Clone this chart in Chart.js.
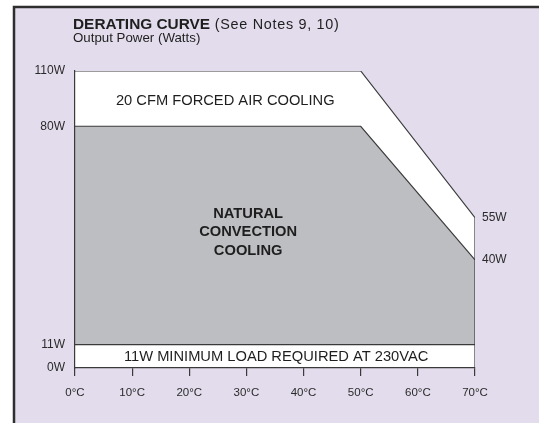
<!DOCTYPE html>
<html>
<head>
<meta charset="utf-8">
<script src="https://cdn.jsdelivr.net/npm/chart.js@4"></script>
<style>
  html, body { margin: 0; padding: 0; background: #fff; }
</style>
</head>
<body>
<canvas id="myChart" width="539" height="423"></canvas>
<script>
// derating curve, temperature (°C) vs output power (W)
const temps = [0, 50, 70, 70];
const forcedAir = [110, 110, 55, 0];
const natural = [80, 80, 40, 0];
const minTemps = [0, 70, 70];
const minLoad = [11, 11, 0];
const leftTicks = [0, 11, 80, 110];
const rightTicks = [40, 55];

const FONT = '"Liberation Sans", Arial, Helvetica, sans-serif';
const LINE = '#3a3a3a';

// the power axis in the datasheet is not to scale, so map it piecewise
class SchematicScale extends Chart.LinearScale {
    _frac(value) {
        const b = this.options.breaks;
        for (let i = 1; i < b.length; i++) {
            if (value <= b[i][0] || i === b.length - 1) {
                const [v0, f0] = b[i - 1], [v1, f1] = b[i];
                return f0 + (value - v0) / (v1 - v0) * (f1 - f0);
            }
        }
        return 0;
    }
    getPixelForValue(value) {
        return this.getPixelForDecimal(this._frac(value));
    }
    getValueForPixel(pixel) {
        const f = this.getDecimalForPixel(pixel);
        const b = this.options.breaks;
        for (let i = 1; i < b.length; i++) {
            if (f <= b[i][1] || i === b.length - 1) {
                const [v0, f0] = b[i - 1], [v1, f1] = b[i];
                return v0 + (f - f0) / (f1 - f0) * (v1 - v0);
            }
        }
        return 0;
    }
}
SchematicScale.id = 'schematic';
SchematicScale.defaults = {};
Chart.register(SchematicScale);

const breaks = [[0, 0], [11, 0.079], [40, 0.364], [55, 0.506], [80, 0.814], [110, 1]];

const background = {
    id: 'background',
    beforeDraw(chart) {
        const c = chart.ctx;
        c.save();
        c.fillStyle = '#ffffff';
        c.fillRect(0, 0, chart.width, chart.height);
        c.fillStyle = '#e3dcec';
        c.fillRect(14, 7, chart.width - 14, chart.height - 7);
        c.strokeStyle = '#2e2e2e';
        c.lineWidth = 2.5;
        c.beginPath();
        c.moveTo(14, chart.height);
        c.lineTo(14, 7);
        c.lineTo(chart.width, 7);
        c.stroke();
        c.restore();
    }
};

const texts = {
    id: 'texts',
    afterDraw(chart) {
        const c = chart.ctx;
        const x = chart.scales.x, y = chart.scales.y;
        c.save();
        c.fillStyle = '#1e1e1e';
        c.textBaseline = 'alphabetic';
        c.textAlign = 'left';
        c.font = 'bold 15.4px ' + FONT;
        c.fillText('DERATING CURVE', 73, 29);
        const w = c.measureText('DERATING CURVE').width;
        c.font = '14.4px ' + FONT;
        c.letterSpacing = '0.7px';
        c.fillText(' (See Notes 9, 10)', 73 + w, 29);
        c.letterSpacing = '0px';
        c.font = '13.3px ' + FONT;
        c.fillText('Output Power (Watts)', 73, 41.5);

        c.textAlign = 'center';
        c.textBaseline = 'middle';
        c.font = '14.7px ' + FONT;
        c.fillText('20 CFM FORCED AIR COOLING', x.getPixelForValue(26.3), y.getPixelForValue(94));
        c.fillText('11W MINIMUM LOAD REQUIRED AT 230VAC', x.getPixelForValue(35.2), y.getPixelForValue(5));
        c.font = 'bold 14.7px ' + FONT;
        const cx = x.getPixelForValue(30.3), cy = y.getPixelForValue(49.8);
        c.fillText('NATURAL', cx, cy - 18.3);
        c.fillText('CONVECTION', cx, cy);
        c.fillText('COOLING', cx, cy + 18.3);
        c.restore();
    }
};

const ctx = document.getElementById('myChart');
const toPoints = (xs, ys) => xs.map((t, i) => ({x: t, y: ys[i]}));

new Chart(ctx, {
    type: 'line',
    data: {
        datasets: [{
            label: '11W minimum load',
            data: toPoints(minTemps, minLoad),
            fill: 'origin',
            backgroundColor: '#ffffff',
            borderColor: LINE,
            order: 1
        }, {
            label: 'Natural convection',
            data: toPoints(temps, natural),
            fill: 'origin',
            backgroundColor: '#bdbec2',
            borderColor: LINE,
            order: 2
        }, {
            label: '20 CFM forced air',
            data: toPoints(temps, forcedAir),
            fill: 'origin',
            backgroundColor: '#ffffff',
            borderColor: LINE,
            order: 3
        }]
    },
    options: {
        responsive: false,
        animation: false,
        devicePixelRatio: 1,
        events: [],
        layout: { padding: { top: 71, left: 0, right: 0, bottom: 0 } },
        elements: {
            line: { tension: 0, borderWidth: 1.2 },
            point: { radius: 0 }
        },
        plugins: {
            legend: { display: false },
            tooltip: { enabled: false },
            title: { display: false }
        },
        scales: {
            x: {
                type: 'linear',
                min: 0,
                max: 70,
                afterFit: s => { s.height = 55; },
                grid: { drawOnChartArea: false, drawTicks: true, tickLength: 8, color: LINE, lineWidth: 1.2 },
                border: { display: true, color: LINE, width: 1.2, z: 1 },
                ticks: {
                    stepSize: 10,
                    padding: 10,
                    color: '#2a2a2a',
                    font: { family: FONT, size: 11.5 },
                    callback: v => v + '°C'
                }
            },
            y: {
                type: 'schematic',
                position: 'left',
                min: 0,
                max: 110,
                breaks: breaks,
                afterFit: s => { s.width = 75; },
                afterBuildTicks: s => { s.ticks = leftTicks.map(v => ({value: v})); },
                grid: { display: false, drawTicks: false },
                border: { display: true, color: LINE, width: 1.2, z: 1 },
                ticks: {
                    padding: 10,
                    color: '#2a2a2a',
                    font: { family: FONT, size: 12 },
                    callback: v => v + 'W'
                }
            },
            y2: {
                type: 'schematic',
                position: 'right',
                min: 0,
                max: 110,
                breaks: breaks,
                afterFit: s => { s.width = 64; },
                afterBuildTicks: s => { s.ticks = rightTicks.map(v => ({value: v})); },
                grid: { display: false, drawTicks: false },
                border: { display: false },
                ticks: {
                    padding: 7,
                    color: '#2a2a2a',
                    font: { family: FONT, size: 12 },
                    callback: v => v + 'W'
                }
            }
        }
    },
    plugins: [background, texts]
});
</script>
</body>
</html>
